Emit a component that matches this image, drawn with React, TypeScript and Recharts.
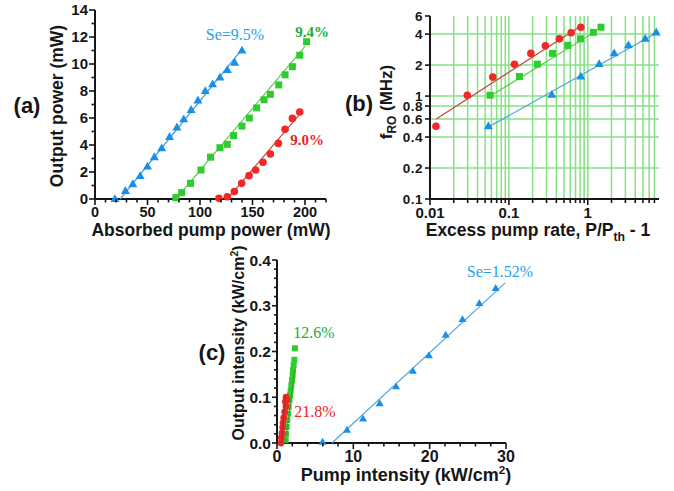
import React from 'react';
import { ScatterChart, Scatter, XAxis, YAxis, CartesianGrid } from 'recharts';

// (a) output power (mW) vs absorbed pump power (mW)
const aBlueX = [19, 29, 36, 43, 50, 56.5, 63.5, 71, 78, 84.5, 91.5, 98, 105, 112, 119, 126, 133, 140];
const aBlueY = [0, 0.6, 1.1, 1.7, 2.4, 3.1, 3.75, 4.6, 5.3, 5.9, 6.6, 7.3, 8.0, 8.5, 9.0, 9.55, 10.1, 11.0];
const aGreenX = [77, 82.5, 91, 101, 110, 119, 126, 132, 140, 147, 154, 161, 167, 175, 181, 188, 195, 201.5];
const aGreenY = [0.1, 0.47, 1.16, 2.15, 3.1, 3.8, 4.05, 4.7, 5.4, 6.0, 6.75, 7.35, 7.75, 8.45, 9.2, 9.8, 10.65, 11.65];
const aRedX = [118, 126, 132.7, 139.7, 146.7, 153, 160, 167, 174.6, 181, 188, 195];
const aRedY = [0.05, 0.17, 0.55, 1.16, 1.73, 2.15, 2.72, 3.33, 4.12, 5.16, 5.97, 6.44];
const aBlueFitX = [24, 139];
const aBlueFitY = [0, 11.0];
const aGreenFitX = [77, 200];
const aGreenFitY = [0, 11.3];
const aRedFitX = [126, 194];
const aRedFitY = [0, 6.2];
const aTicksX = [0, 10, 20, 30, 40, 50, 60, 70, 80, 90, 100, 110, 120, 130, 140, 150, 160, 170, 180, 190, 200, 210, 220];
const aTicksY = [0, 1, 2, 3, 4, 5, 6, 7, 8, 9, 10, 11, 12, 13, 14];

// (b) relaxation oscillation frequency (MHz) vs excess pump rate
const bRedX = [0.0119, 0.0297, 0.0625, 0.1175, 0.19, 0.29, 0.437, 0.615, 0.817];
const bRedY = [0.51, 1.02, 1.53, 2.04, 2.6, 3.08, 3.6, 4.13, 4.67];
const bGreenX = [0.0577, 0.136, 0.23, 0.357, 0.559, 0.807, 1.18, 1.47];
const bGreenY = [1.02, 1.55, 2.04, 2.6, 3.11, 3.6, 4.16, 4.67];
const bBlueX = [0.055, 0.35, 0.817, 1.395, 2.16, 3.28, 5.35, 7.38];
const bBlueY = [0.51, 1.03, 1.55, 2.05, 2.6, 3.11, 3.6, 4.15];
const bRedFitX = [0.012, 0.82];
const bRedFitY = [0.6, 4.8];
const bGreenFitX = [0.058, 1.18];
const bGreenFitY = [1.0, 4.12];
const bBlueFitX = [0.055, 7.4];
const bBlueFitY = [0.5, 4.1];
const bTicksX = [0.01, 0.02, 0.03, 0.04, 0.05, 0.06, 0.07, 0.08, 0.09, 0.1, 0.2, 0.3, 0.4, 0.5, 0.6, 0.7, 0.8, 0.9, 1, 2, 3, 4, 5, 6, 7];
const bMajorX = [0.01, 0.1, 1];
const bTicksY = [0.1, 0.2, 0.4, 0.6, 0.8, 1, 2, 4, 6];
const bGridX = [0.02, 0.03, 0.04, 0.05, 0.06, 0.07, 0.08, 0.09, 0.1, 0.2, 0.3, 0.4, 0.5, 0.6, 0.7, 0.8, 0.9, 1, 2, 3, 4, 5, 6, 7];
const bGridY = [0.2, 0.4, 0.6, 0.8, 1, 2, 4];

// (c) output intensity vs pump intensity (kW/cm2)
const cBlueX = [5.97, 9.17, 11.27, 13.45, 15.6, 17.8, 19.9, 22.1, 24.3, 26.5, 28.65];
const cBlueY = [0.002, 0.028, 0.053, 0.086, 0.123, 0.157, 0.191, 0.236, 0.27, 0.305, 0.338];
const cGreenX = [1.13, 1.18, 1.27, 1.35, 1.44, 1.53, 1.62, 1.7, 1.79, 1.88, 1.96, 2.05, 2.1, 2.18, 2.27, 2.36];
const cGreenY = [0.006, 0.02, 0.035, 0.05, 0.064, 0.079, 0.093, 0.104, 0.115, 0.126, 0.137, 0.148, 0.159, 0.17, 0.182, 0.207];
const cRedX = [0.52, 0.57, 0.66, 0.74, 0.79, 0.87, 1.0, 1.18, 1.09, 1.31, 1.18];
const cRedY = [0, 0.012, 0.022, 0.034, 0.044, 0.055, 0.068, 0.08, 0.09, 0.095, 0.1];
const cBlueFitX = [7.2, 29.9];
const cBlueFitY = [0, 0.35];
const cGreenFitX = [1.1, 2.3];
const cGreenFitY = [0, 0.16];
const cRedFitX = [0.6, 1.1];
const cRedFitY = [0, 0.105];
const cTicksX = [0, 2, 4, 6, 8, 10, 12, 14, 16, 18, 20, 22, 24, 26, 28, 30];
const cTicksY = [0, 0.02, 0.04, 0.06, 0.08, 0.1, 0.12, 0.14, 0.16, 0.18, 0.2, 0.22, 0.24, 0.26, 0.28, 0.3, 0.32, 0.34, 0.36, 0.38, 0.4];

const BLUE = '#1a8fe8';
const GREEN = '#2ecc2e';
const RED = '#f02828';
const INK = '#161616';
const SANS = '"Liberation Sans", Arial, sans-serif';
const SERIF = '"Liberation Serif", serif';

const zip = (xs: number[], ys: number[]) => xs.map((x, i) => ({ x, y: ys[i] }));

const tri = (color: string, w: number) => (p: any) => {
  const h = w * 0.87;
  return (
    <polygon
      points={`${p.cx},${p.cy - h * 0.62} ${p.cx - w / 2},${p.cy + h * 0.38} ${p.cx + w / 2},${p.cy + h * 0.38}`}
      fill={color}
    />
  );
};
const sq = (color: string, w: number) => (p: any) => (
  <rect x={p.cx - w / 2} y={p.cy - w / 2} width={w} height={w} fill={color} />
);
const dot = (color: string, r: number) => (p: any) => <circle cx={p.cx} cy={p.cy} r={r} fill={color} />;
const none = () => <g />;

type TickOpt = {
  major: (v: number) => boolean;
  fmt: (v: number) => string;
  len: number;
  minor: number;
  size: number;
  gap: number;
  spacing?: number;
};

const xTick = (o: TickOpt) => (p: any) => {
  const v = p.payload.value;
  const mj = o.major(v);
  return (
    <g>
      <line x1={p.x} x2={p.x} y1={p.y} y2={p.y + (mj ? o.len : o.minor)} stroke={INK} strokeWidth={1.6} />
      {mj && (
        <text x={p.x} y={p.y + o.len + o.gap} dy="0.72em" textAnchor="middle"
          fontFamily={SANS} fontWeight="bold" fontSize={o.size} fill={INK}>
          {o.fmt(v)}
        </text>
      )}
    </g>
  );
};

const yTick = (o: TickOpt) => (p: any) => {
  const v = p.payload.value;
  const mj = o.major(v);
  return (
    <g>
      <line x1={p.x - (mj ? o.len : o.minor)} x2={p.x} y1={p.y} y2={p.y} stroke={INK} strokeWidth={1.6} />
      {mj && (
        <text x={p.x - o.len - o.gap} y={p.y} dy="0.36em" textAnchor="end" letterSpacing={o.spacing || 0}
          fontFamily={SANS} fontWeight="bold" fontSize={o.size} fill={INK}>
          {o.fmt(v)}
        </text>
      )}
    </g>
  );
};

const near = (v: number, step: number) => Math.abs(v / step - Math.round(v / step)) < 1e-6;
const axisLine = { stroke: INK, strokeWidth: 2 };

const Txt = ({ x, y, children, size = 17.5, rotate = false, color = INK, font = SANS, bold = true }: any) => (
  <div
    style={{
      position: 'absolute',
      left: x,
      top: y,
      transform: `translate(-50%, -50%)${rotate ? ' rotate(-90deg)' : ''}`,
      whiteSpace: 'nowrap',
      fontFamily: font,
      fontWeight: bold ? 'bold' : 'normal',
      fontSize: size,
      color,
      lineHeight: 1,
    }}
  >
    {children}
  </div>
);

const subSt = { fontSize: '0.7em', lineHeight: 0 };
const supSt = { fontSize: '0.65em', lineHeight: 0 };

function PanelA() {
  return (
    <ScatterChart width={340} height={245} margin={{ top: 10, right: 14, bottom: 0, left: 0 }}>
      <XAxis type="number" dataKey="x" domain={[0, 220]} ticks={aTicksX} interval={0} height={46}
        tickSize={0} tickMargin={0} tickLine={false} axisLine={axisLine}
        tick={xTick({ major: (v) => near(v, 50), fmt: (v) => String(v), len: 6, minor: 3.5, size: 14.5, gap: 1.5 })} />
      <YAxis type="number" dataKey="y" domain={[0, 14]} ticks={aTicksY} interval={0} width={95}
        tickSize={0} tickMargin={0} tickLine={false} axisLine={axisLine}
        tick={yTick({ major: (v) => near(v, 2), fmt: (v) => String(v), len: 6, minor: 3.5, size: 15, gap: 1 })} />
      <Scatter data={zip(aBlueFitX, aBlueFitY)} line={{ stroke: '#4aa3e0', strokeWidth: 1.2 }} shape={none} isAnimationActive={false} />
      <Scatter data={zip(aGreenFitX, aGreenFitY)} line={{ stroke: '#5ccc4a', strokeWidth: 1.2 }} shape={none} isAnimationActive={false} />
      <Scatter data={zip(aRedFitX, aRedFitY)} line={{ stroke: '#c4453f', strokeWidth: 1.2 }} shape={none} isAnimationActive={false} />
      <Scatter data={zip(aBlueX, aBlueY)} shape={tri(BLUE, 9)} isAnimationActive={false} />
      <Scatter data={zip(aGreenX, aGreenY)} shape={sq(GREEN, 7)} isAnimationActive={false} />
      <Scatter data={zip(aRedX, aRedY)} shape={dot(RED, 3.8)} isAnimationActive={false} />
    </ScatterChart>
  );
}

function PanelB() {
  return (
    <ScatterChart width={334} height={245} margin={{ top: 16, right: 15, bottom: 0, left: 0 }}>
      <CartesianGrid stroke="#86e186" strokeWidth={1.5} verticalValues={bGridX} horizontalValues={bGridY} />
      <XAxis type="number" dataKey="x" scale="log" domain={[0.01, 8]} ticks={bTicksX} interval={0} height={46}
        tickSize={0} tickMargin={0} tickLine={false} axisLine={axisLine}
        tick={xTick({ major: (v) => bMajorX.includes(v), fmt: (v) => String(v), len: 6, minor: 4, size: 15, gap: 2 })} />
      <YAxis type="number" dataKey="y" scale="log" domain={[0.1, 6]} ticks={bTicksY} interval={0} width={90}
        tickSize={0} tickMargin={0} tickLine={false} axisLine={axisLine}
        tick={yTick({ major: () => true, fmt: (v) => String(v), len: 5, minor: 3, size: 13.5, gap: 2, spacing: 0.5 })} />
      <Scatter data={zip(bRedFitX, bRedFitY)} line={{ stroke: '#c4453f', strokeWidth: 1.2 }} shape={none} isAnimationActive={false} />
      <Scatter data={zip(bGreenFitX, bGreenFitY)} line={{ stroke: '#5ccc4a', strokeWidth: 1.2 }} shape={none} isAnimationActive={false} />
      <Scatter data={zip(bBlueFitX, bBlueFitY)} line={{ stroke: '#4aa3e0', strokeWidth: 1.2 }} shape={none} isAnimationActive={false} />
      <Scatter data={zip(bRedX, bRedY)} shape={dot(RED, 3.8)} isAnimationActive={false} />
      <Scatter data={zip(bGreenX, bGreenY)} shape={sq(GREEN, 7)} isAnimationActive={false} />
      <Scatter data={zip(bBlueX, bBlueY)} shape={tri(BLUE, 9)} isAnimationActive={false} />
    </ScatterChart>
  );
}

function PanelC() {
  return (
    <ScatterChart width={360} height={246} margin={{ top: 15, right: 34, bottom: 0, left: 0 }}>
      <XAxis type="number" dataKey="x" domain={[0, 30]} ticks={cTicksX} interval={0} height={48}
        tickSize={0} tickMargin={0} tickLine={false} axisLine={axisLine}
        tick={xTick({ major: (v) => near(v, 10), fmt: (v) => String(v), len: 6, minor: 3.5, size: 16, gap: 1 })} />
      <YAxis type="number" dataKey="y" domain={[0, 0.4]} ticks={cTicksY} interval={0} width={97}
        tickSize={0} tickMargin={0} tickLine={false} axisLine={axisLine}
        tick={yTick({ major: (v) => near(v, 0.1), fmt: (v) => v.toFixed(1), len: 5, minor: 3, size: 15.5, gap: 1 })} />
      <Scatter data={zip(cBlueFitX, cBlueFitY)} line={{ stroke: '#4aa3e0', strokeWidth: 1.1 }} shape={none} isAnimationActive={false} />
      <Scatter data={zip(cBlueX, cBlueY)} shape={tri(BLUE, 8)} isAnimationActive={false} />
      <Scatter data={zip(cGreenX, cGreenY)} shape={sq(GREEN, 6)} isAnimationActive={false} />
      <Scatter data={zip(cRedX, cRedY)} shape={dot(RED, 3.4)} isAnimationActive={false} />
      <Scatter data={zip(cGreenFitX, cGreenFitY)} line={{ stroke: '#3f9a2a', strokeWidth: 1.1 }} shape={none} isAnimationActive={false} />
      <Scatter data={zip(cRedFitX, cRedFitY)} line={{ stroke: '#a0302a', strokeWidth: 1.1 }} shape={none} isAnimationActive={false} />
    </ScatterChart>
  );
}

export default function App() {
  return (
    <div style={{ position: 'absolute', left: 0, top: 0, width: 674, height: 491, background: '#fff', overflow: 'hidden' }}>
      <div style={{ position: 'absolute', left: 0, top: 0 }}><PanelA /></div>
      <div style={{ position: 'absolute', left: 340, top: 0 }}><PanelB /></div>
      <div style={{ position: 'absolute', left: 180, top: 245 }}><PanelC /></div>

      <Txt x={27} y={106} size={22}>(a)</Txt>
      <Txt x={359} y={104} size={22}>(b)</Txt>
      <Txt x={212} y={353} size={22}>(c)</Txt>

      <Txt x={58} y={106} rotate>Output power (mW)</Txt>
      <Txt x={211} y={230.5}>Absorbed pump power (mW)</Txt>

      <Txt x={386} y={102} rotate size={17}>
        f<sub style={subSt}>RO</sub> (MHz)
      </Txt>
      <Txt x={538} y={230.5}>
        Excess pump rate, P/P<sub style={subSt}>th</sub> - 1
      </Txt>

      <Txt x={239} y={343} rotate size={16}>
        Output intensity (kW/cm<sup style={supSt}>2</sup>)
      </Txt>
      <Txt x={406} y={475} size={18}>
        Pump intensity (kW/cm<sup style={supSt}>2</sup>)
      </Txt>

      <Txt x={235} y={35} size={16} font={SERIF} bold={false} color="#2aa0e6">Se=9.5%</Txt>
      <Txt x={312} y={32} size={15} font={SERIF} color="#22aa3a">9.4%</Txt>
      <Txt x={307} y={140} size={15} font={SERIF} color="#ee2222">9.0%</Txt>

      <Txt x={500} y={272} size={16} font={SERIF} bold={false} color="#2aa0e6">Se=1.52%</Txt>
      <Txt x={314} y={333} size={16} font={SERIF} bold={false} color="#22aa3a">12.6%</Txt>
      <Txt x={315} y={412} size={16} font={SERIF} bold={false} color="#ee2222">21.8%</Txt>
    </div>
  );
}
